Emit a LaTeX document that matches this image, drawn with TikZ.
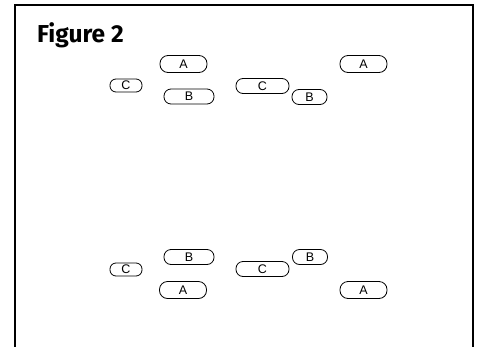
\documentclass[tikz,border=0pt]{standalone}
\usepackage{fontspec}
\setmainfont{Liberation Sans}
\newfontfamily\titlefont{Fira Sans}
\begin{document}
\begin{tikzpicture}[x=1pt,y=-1pt,
  pill/.style={draw, line width=0.8pt, rounded corners=7pt, inner sep=0pt, minimum height=15pt, font=\fontsize{12.5}{13}\selectfont},
  frameline/.style={line width=1.1pt},
  title/.style={font=\titlefont\bfseries\fontsize{24.5}{26}\selectfont, inner sep=0pt, anchor=base west}]
\useasboundingbox (0,0) rectangle (477,346);
\draw[frameline] (15,347) -- (15,5) -- (473,5) -- (473,347);
\node[title] (t) at (37,42) {Figure 2};
% top group
\node[pill, minimum width=47pt, minimum height=17pt, rounded corners=8pt] (a1) at (183.5,64) {A};
\node[pill, minimum width=32pt, minimum height=13pt, rounded corners=6pt] (c1) at (126,85.5) {C};
\node[pill, minimum width=50pt] (b1) at (189,96.5) {B};
\node[pill, minimum width=53pt] (c2) at (262.5,86) {C};
\node[pill, minimum width=35pt] (b2) at (309.5,97) {B};
\node[pill, minimum width=47pt, minimum height=17pt, rounded corners=8pt] (a2) at (363.5,64) {A};
% bottom group
\node[pill, minimum width=50pt] (b3) at (189,257) {B};
\node[pill, minimum width=32pt, minimum height=13pt, rounded corners=6pt] (c3) at (126,269.5) {C};
\node[pill, minimum width=47pt, minimum height=17pt, rounded corners=8pt] (a3) at (183,290) {A};
\node[pill, minimum width=53pt] (c4) at (262.5,269) {C};
\node[pill, minimum width=35pt] (b4) at (310,257) {B};
\node[pill, minimum width=47pt, minimum height=17pt, rounded corners=8pt] (a4) at (363.5,290) {A};
\end{tikzpicture}
\end{document}
